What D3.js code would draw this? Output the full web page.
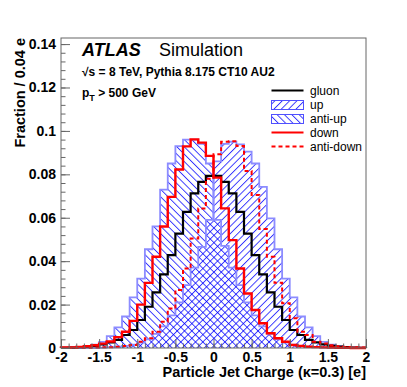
<!DOCTYPE html>
<html>
<head>
<meta charset="utf-8">
<script src="https://cdn.jsdelivr.net/npm/d3@7"></script>
<style>
  body { margin: 0; background: #fff; }
  text { font-family: "Liberation Sans", Arial, Helvetica, sans-serif; }
</style>
</head>
<body>
<svg id="chart"></svg>
<script>
// lower edges of the 0.1-wide bins
const bins = [-2.0, -1.9, -1.8, -1.7, -1.6, -1.5, -1.4, -1.3, -1.2, -1.1,
              -1.0, -0.9, -0.8, -0.7, -0.6, -0.5, -0.4, -0.3, -0.2, -0.1,
               0.0,  0.1,  0.2,  0.3,  0.4,  0.5,  0.6,  0.7,  0.8,  0.9,
               1.0,  1.1,  1.2,  1.3,  1.4,  1.5,  1.6,  1.7,  1.8,  1.9];
const binWidth = 0.1;

const gluon = [0.0001, 0.0002, 0.0004, 0.0006, 0.001, 0.0017, 0.0026, 0.0037, 0.006, 0.0083,
               0.0129, 0.019, 0.0256, 0.0339, 0.0428, 0.0527, 0.0627, 0.0712, 0.0765, 0.0793,
               0.0793, 0.0765, 0.0712, 0.0627, 0.0527, 0.0428, 0.0339, 0.0256, 0.019, 0.0129,
               0.0083, 0.006, 0.0037, 0.0026, 0.0017, 0.001, 0.0006, 0.0004, 0.0002, 0.0001];

const up = [0, 0, 0, 0.0001, 0.0001, 0.0002, 0.0004, 0.0006, 0.001, 0.0015,
            0.0025, 0.004, 0.0065, 0.010, 0.015, 0.021, 0.029, 0.037, 0.0466, 0.059,
            0.086, 0.094, 0.095, 0.0938, 0.0905, 0.085, 0.0742, 0.0597, 0.0455, 0.032,
            0.0233, 0.0145, 0.0095, 0.0055, 0.0028, 0.0015, 0.0008, 0.0005, 0.0003, 0.0002];

const antiUp = [0.0002, 0.0003, 0.0005, 0.0008, 0.0015, 0.0028, 0.0055, 0.0095, 0.0145, 0.0233,
                0.032, 0.0455, 0.056, 0.073, 0.085, 0.093, 0.096, 0.096, 0.094, 0.085,
                0.059, 0.047, 0.037, 0.029, 0.021, 0.015, 0.010, 0.0065, 0.004, 0.0025,
                0.0015, 0.001, 0.0006, 0.0004, 0.0002, 0.0001, 0.0001, 0, 0, 0];

const down = [0.0002, 0.0003, 0.0005, 0.0008, 0.0013, 0.002, 0.003, 0.005, 0.0075, 0.0125,
              0.020, 0.030, 0.042, 0.056, 0.0696, 0.0822, 0.0929, 0.0961, 0.0946, 0.0885,
              0.0785, 0.0643, 0.0497, 0.0366, 0.0251, 0.0175, 0.0114, 0.0068, 0.0045, 0.0029,
              0.0014, 0.0009, 0.0006, 0.0004, 0.0003, 0.0002, 0.0001, 0.0001, 0, 0];

const antiDown = [0, 0, 0.0001, 0.0001, 0.0002, 0.0003, 0.0004, 0.0006, 0.0009, 0.0014,
                  0.0029, 0.0045, 0.0075, 0.0121, 0.0182, 0.0267, 0.0366, 0.0504, 0.0643, 0.078,
                  0.0892, 0.095, 0.0952, 0.093, 0.0815, 0.0705, 0.0548, 0.042, 0.030, 0.0206,
                  0.0137, 0.0075, 0.006, 0.0029, 0.0021, 0.0013, 0.0008, 0.0005, 0.0003, 0.0002];

const xTicks = [-2, -1.5, -1, -0.5, 0, 0.5, 1, 1.5, 2];
const xTickLabels = ["-2", "-1.5", "-1", "-0.5", "0", "0.5", "1", "1.5", "2"];
const yTicks = [0, 0.02, 0.04, 0.06, 0.08, 0.1, 0.12, 0.14];
const yTickLabels = ["0", "0.02", "0.04", "0.06", "0.08", "0.1", "0.12", "0.14"];
const legendLabels = ["gluon", "up", "anti-up", "down", "anti-down"];

const width = 407, height = 387;
const marginLeft = 61, marginRight = 41, marginTop = 38, marginBottom = 39;

const svg = d3.select("#chart")
  .attr("width", width)
  .attr("height", height)
  .attr("viewBox", [0, 0, width, height]);

svg.append("rect").attr("width", width).attr("height", height).attr("fill", "#fff");

const x = d3.scaleLinear().domain([-2, 2]).range([marginLeft, width - marginRight]);
const y = d3.scaleLinear().domain([0, 0.1428]).range([height - marginBottom, marginTop]);

// hatch patterns
const defs = svg.append("defs");
function hatch(id, angle) {
  defs.append("pattern")
    .attr("id", id)
    .attr("patternUnits", "userSpaceOnUse")
    .attr("width", 5.2)
    .attr("height", 10)
    .attr("patternTransform", `rotate(${angle})`)
    .append("line")
    .attr("x1", 0.5).attr("y1", 0)
    .attr("x2", 0.5).attr("y2", 10)
    .attr("stroke", "#0000ff")
    .attr("stroke-width", 0.8);
}
hatch("hatch-up", 45);
hatch("hatch-antiup", -45);

// step outline through the bins
function stepPoints(vals) {
  const pts = [[bins[0], 0]];
  vals.forEach((v, i) => {
    pts.push([bins[i], v]);
    pts.push([bins[i] + binWidth, v]);
  });
  pts.push([bins[bins.length - 1] + binWidth, 0]);
  return pts;
}
const line = d3.line().x((d) => x(d[0])).y((d) => y(d[1]));

const plot = svg.append("g");

// hatched fills
plot.append("path").attr("d", line(stepPoints(up)) + "Z").attr("fill", "url(#hatch-up)");
plot.append("path").attr("d", line(stepPoints(antiUp)) + "Z").attr("fill", "url(#hatch-antiup)");

// blue outlines
[up, antiUp].forEach((s) => {
  plot.append("path")
    .attr("d", line(stepPoints(s)))
    .attr("fill", "none")
    .attr("stroke", "#8c8cff")
    .attr("stroke-width", 1.8);
});

plot.append("path")
  .attr("d", line(stepPoints(gluon)))
  .attr("fill", "none")
  .attr("stroke", "#000")
  .attr("stroke-width", 2.2);

plot.append("path")
  .attr("d", line(stepPoints(down)))
  .attr("fill", "none")
  .attr("stroke", "#ff0000")
  .attr("stroke-width", 2.4);

plot.append("path")
  .attr("d", line(stepPoints(antiDown)))
  .attr("fill", "none")
  .attr("stroke", "#ff0000")
  .attr("stroke-width", 2)
  .attr("stroke-dasharray", "4,3");

// axes
const tickColor = "#666";
const xMinor = d3.range(-20, 21).map((d) => d / 10);
const yMinor = d3.range(0, 36).map((d) => d * 0.004);

svg.append("g")
  .attr("transform", `translate(0,${height - marginBottom})`)
  .call(d3.axisBottom(x).tickValues(xMinor).tickSize(-4.5).tickFormat(""))
  .call((g) => g.select(".domain").remove())
  .call((g) => g.selectAll("line").attr("stroke", tickColor));

svg.append("g")
  .attr("transform", `translate(0,${height - marginBottom})`)
  .call(d3.axisBottom(x).tickValues(xTicks).tickSize(-9).tickPadding(4)
    .tickFormat((d, i) => xTickLabels[i]))
  .call((g) => g.select(".domain").remove())
  .call((g) => g.selectAll("line").attr("stroke", tickColor))
  .call((g) => g.selectAll("text")
    .attr("font-family", "Liberation Sans, Arial, sans-serif")
    .attr("font-size", 14).attr("font-weight", "bold").attr("fill", "#000"));

svg.append("g")
  .attr("transform", `translate(${marginLeft},0)`)
  .call(d3.axisLeft(y).tickValues(yMinor).tickSize(-4.5).tickFormat(""))
  .call((g) => g.select(".domain").remove())
  .call((g) => g.selectAll("line").attr("stroke", tickColor));

svg.append("g")
  .attr("transform", `translate(${marginLeft},0)`)
  .call(d3.axisLeft(y).tickValues(yTicks).tickSize(-9).tickPadding(5)
    .tickFormat((d, i) => yTickLabels[i]))
  .call((g) => g.select(".domain").remove())
  .call((g) => g.selectAll("line").attr("stroke", tickColor))
  .call((g) => g.selectAll("text")
    .attr("font-family", "Liberation Sans, Arial, sans-serif")
    .attr("font-size", 14).attr("font-weight", "bold").attr("fill", "#000"));

// frame
svg.append("rect")
  .attr("x", marginLeft)
  .attr("y", marginTop)
  .attr("width", width - marginLeft - marginRight)
  .attr("height", height - marginTop - marginBottom)
  .attr("fill", "none")
  .attr("stroke", tickColor)
  .attr("stroke-width", 1);

// axis titles
svg.append("text")
  .attr("x", width - marginRight)
  .attr("y", 377)
  .attr("text-anchor", "end")
  .attr("font-size", 14.5)
  .attr("font-weight", "bold")
  .text("Particle Jet Charge (κ=0.3) [e]");

svg.append("text")
  .attr("transform", `translate(25,${marginTop}) rotate(-90)`)
  .attr("text-anchor", "end")
  .attr("font-size", 14.5)
  .attr("font-weight", "bold")
  .text("Fraction / 0.04 e");

// labels
svg.append("text")
  .attr("x", 82).attr("y", 56)
  .attr("font-size", 18).attr("font-weight", "bold").attr("font-style", "italic")
  .text("ATLAS");
svg.append("text")
  .attr("x", 159).attr("y", 56)
  .attr("font-size", 18)
  .text("Simulation");
svg.append("text")
  .attr("x", 82).attr("y", 76)
  .attr("font-size", 12).attr("font-weight", "bold")
  .text("√s = 8 TeV, Pythia 8.175 CT10 AU2");
const pt = svg.append("text")
  .attr("x", 82).attr("y", 97)
  .attr("font-size", 12).attr("font-weight", "bold");
pt.append("tspan").text("p");
pt.append("tspan").attr("font-size", 9).attr("dy", 4).text("T");
pt.append("tspan").attr("dy", -4).text(" > 500 GeV");

// legend
const legend = svg.append("g");
const legendRows = [90.5, 105, 119, 132.5, 146.5];
const lx0 = 271.5, lx1 = 303.5;
legendLabels.forEach((name, i) => {
  const ly = legendRows[i];
  if (name === "up" || name === "anti-up") {
    legend.append("rect")
      .attr("x", lx0).attr("y", ly - 4.5)
      .attr("width", lx1 - lx0).attr("height", 9)
      .attr("fill", name === "up" ? "url(#hatch-up)" : "url(#hatch-antiup)")
      .attr("stroke", "#5050ff").attr("stroke-width", 1);
  } else {
    legend.append("line")
      .attr("x1", lx0).attr("x2", lx1)
      .attr("y1", ly).attr("y2", ly)
      .attr("stroke", name === "gluon" ? "#000" : "#ff0000")
      .attr("stroke-width", 2)
      .attr("stroke-dasharray", name === "anti-down" ? "4,3" : null);
  }
  legend.append("text")
    .attr("x", 310).attr("y", ly + 4)
    .attr("font-size", 12)
    .text(name);
});
</script>
</body>
</html>
